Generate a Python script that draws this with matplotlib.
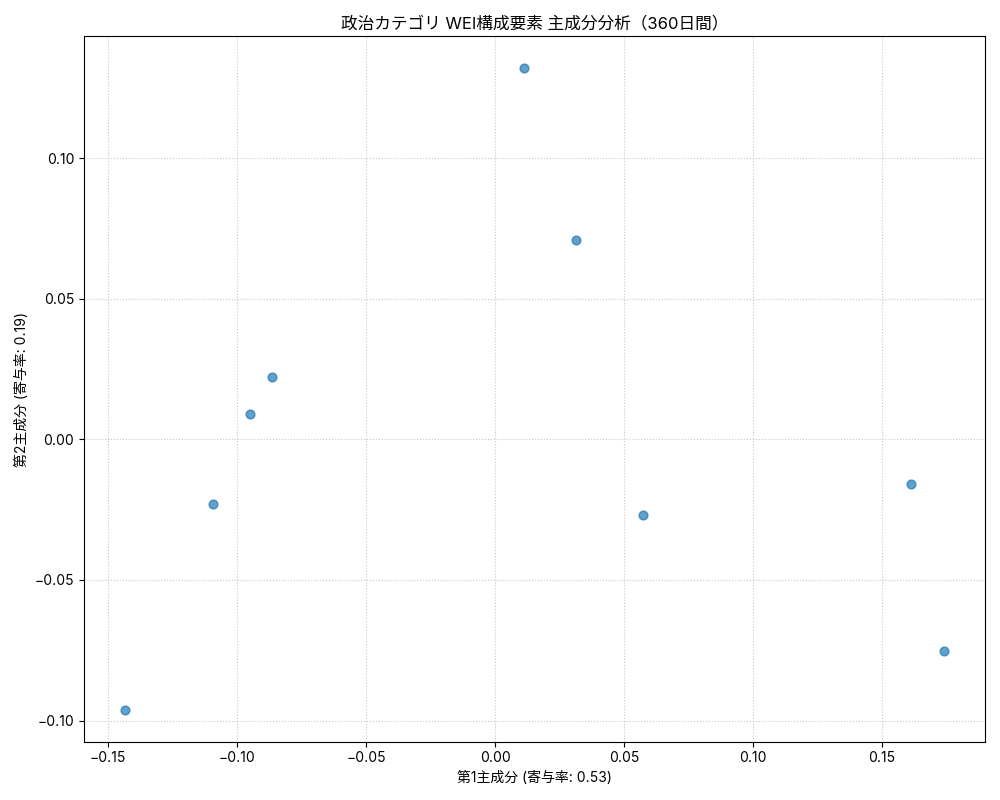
import matplotlib
matplotlib.use("Agg")
import matplotlib.pyplot as plt

plt.rcParams['font.family'] = ['Inter', 'Noto Sans CJK JP', 'DejaVu Sans']
plt.rcParams['axes.unicode_minus'] = True

pc1 = [0.0112, 0.0314, -0.0864, -0.0950, -0.1093, 0.0574, 0.1612, 0.1740, -0.1434]
pc2 = [0.1320, 0.0708, 0.0221, 0.0089, -0.0228, -0.0270, -0.0157, -0.0754, -0.0961]

title = "政治カテゴリ WEI構成要素 主成分分析（360日間）"
xlabel = "第1主成分 (寄与率: 0.53)"
ylabel = "第2主成分 (寄与率: 0.19)"

fig, ax = plt.subplots(figsize=(10, 8), dpi=100)
ax.scatter(pc1, pc2, alpha=0.7, s=40)
ax.set_title(title)
ax.set_xlabel(xlabel)
ax.set_ylabel(ylabel)
ax.grid(True, linestyle=':', alpha=0.7)
fig.tight_layout()
fig.savefig("out.png", dpi=100)
